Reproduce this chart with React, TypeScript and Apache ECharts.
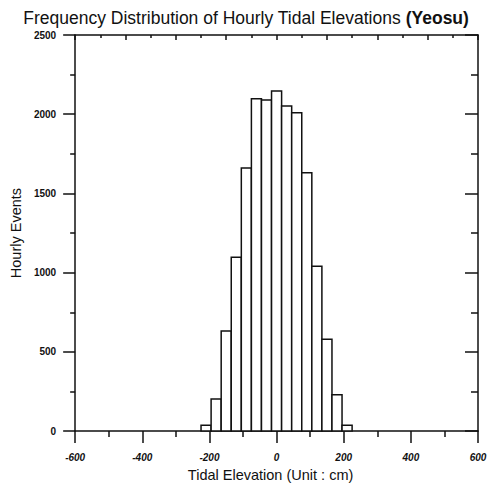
import React, { useEffect, useRef } from "react";
import * as echarts from "echarts";

const binStarts = [-225, -195, -165, -135, -105, -75, -45, -15, 15, 45, 75, 105, 135, 165, 195];
const binWidth = 30;
const counts = [37, 202, 631, 1098, 1660, 2098, 2090, 2146, 2052, 2010, 1631, 1040, 580, 229, 37];
const xTicks = [-600, -400, -200, 0, 200, 400, 600];
const yTicks = [0, 500, 1000, 1500, 2000, 2500];

export default function App() {
  const ref = useRef<HTMLDivElement>(null);
  useEffect(() => {
    const chart = echarts.init(ref.current!, null, { renderer: "svg" });
    const font = "Liberation Sans";
    const ink = "#111";
    const line = { color: ink, width: 1.5 };
    const data = binStarts.map((s, i) => [s, s + binWidth, counts[i]]);
    chart.setOption({
      animation: false,
      title: {
        text: "Frequency Distribution of Hourly Tidal Elevations {b|(Yeosu)}",
        left: "center",
        top: 4,
        textStyle: {
          fontFamily: font,
          fontSize: 17.5,
          fontWeight: "normal",
          color: ink,
          rich: { b: { fontFamily: font, fontSize: 17.5, fontWeight: "bold", color: ink } },
        },
      },
      grid: { left: 73, right: 14, top: 35, bottom: 51 },
      xAxis: [
        {
          type: "value",
          min: xTicks[0],
          max: xTicks[xTicks.length - 1],
          interval: 200,
          position: "bottom",
          name: "Tidal Elevation (Unit : cm)",
          nameLocation: "middle",
          nameGap: 30,
          nameTextStyle: { fontFamily: font, fontSize: 14.5, color: ink, padding: [0, 12, 0, 0] },
          axisLine: { onZero: false, lineStyle: line },
          axisTick: { show: true, inside: false, length: 12, lineStyle: line },
          minorTick: { show: true, splitNumber: 2, length: 6, lineStyle: line },
          axisLabel: { fontFamily: font, fontSize: 10, fontStyle: "italic", fontWeight: "bold", color: ink, margin: 21 },
          splitLine: { show: false },
        },
        {
          type: "value",
          min: -600,
          max: 600,
          interval: 150,
          position: "top",
          axisLine: { show: true, onZero: false, lineStyle: line },
          axisTick: { show: true, inside: true, length: 5, lineStyle: line },
          minorTick: { show: true, splitNumber: 2, length: 3, lineStyle: line },
          axisLabel: { show: false },
          splitLine: { show: false },
        },
      ],
      yAxis: [
        {
          type: "value",
          min: yTicks[0],
          max: yTicks[yTicks.length - 1],
          interval: 500,
          position: "left",
          name: "Hourly Events",
          nameLocation: "middle",
          nameGap: 50,
          nameTextStyle: { fontFamily: font, fontSize: 14.5, color: ink },
          axisLine: { show: true, onZero: false, lineStyle: line },
          axisTick: { show: true, inside: false, length: 12, lineStyle: line },
          minorTick: { show: true, splitNumber: 2, length: 5, lineStyle: line },
          axisLabel: {
            fontFamily: font,
            fontSize: 10,
            fontWeight: "bold",
            color: ink,
            margin: 19,
            formatter: (v: number) => String(v),
          },
          splitLine: { show: false },
        },
        {
          type: "value",
          min: 0,
          max: 2500,
          interval: 500,
          position: "right",
          axisLine: { show: true, onZero: false, lineStyle: line },
          axisTick: { show: true, inside: true, length: 13, lineStyle: line },
          minorTick: { show: true, splitNumber: 2, length: 7, lineStyle: line },
          axisLabel: { show: false },
          splitLine: { show: false },
        },
      ],
      series: [
        {
          type: "custom",
          xAxisIndex: 0,
          yAxisIndex: 0,
          data,
          encode: { x: [0, 1], y: 2 },
          renderItem: (params: any, api: any) => {
            const p0 = api.coord([api.value(0), api.value(2)]);
            const p1 = api.coord([api.value(1), 0]);
            return {
              type: "rect",
              shape: { x: p0[0], y: p0[1], width: p1[0] - p0[0], height: p1[1] - p0[1] },
              style: { fill: "#fff", stroke: ink, lineWidth: 1.5 },
            };
          },
        },
      ],
    });
    return () => chart.dispose();
  }, []);
  return <div ref={ref} style={{ width: 492, height: 487, position: "absolute", left: 0, top: 0, background: "#fff" }} />;
}
